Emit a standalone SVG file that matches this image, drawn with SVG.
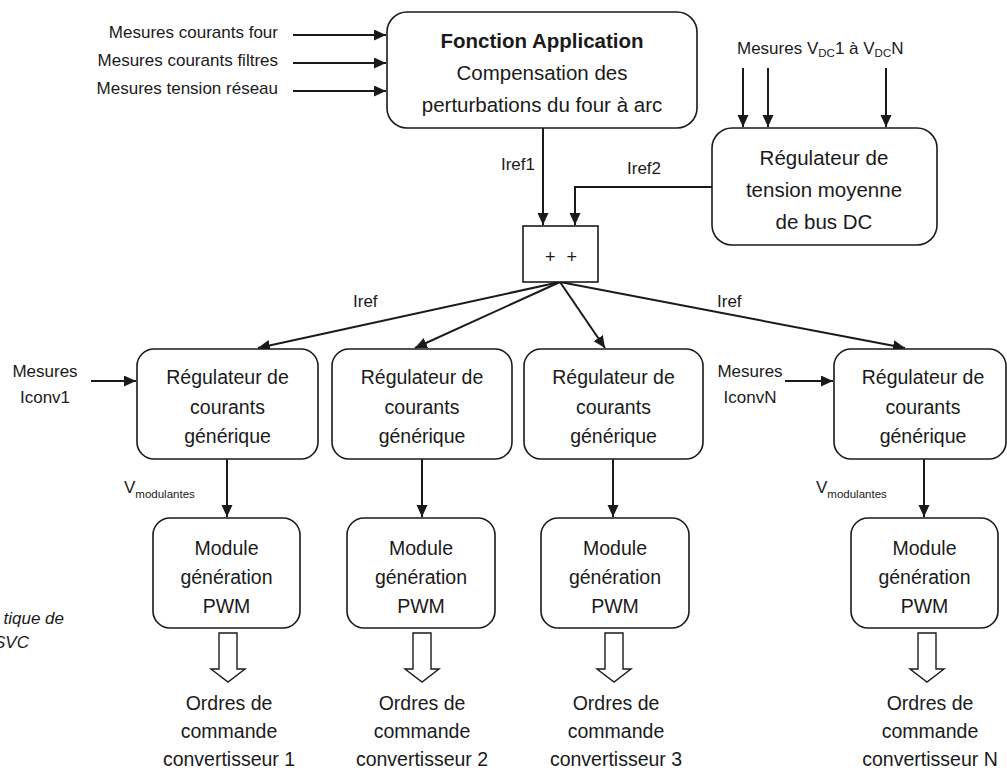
<svg xmlns="http://www.w3.org/2000/svg" width="1007" height="772" viewBox="0 0 1007 772">
<style>
text{font-family:"Liberation Sans",Arial,sans-serif;fill:#1a1a1a}
.box{fill:#fff;stroke:#1a1a1a;stroke-width:1.6}
.ln{fill:none;stroke:#1a1a1a;stroke-width:2}
.lbl{font-size:17px}
.t1{font-size:20.5px;text-anchor:middle}
.t2{font-size:19.5px;text-anchor:middle}
.sub{font-size:11.5px}
.hollow{fill:#fff;stroke:#1a1a1a;stroke-width:1.4}
</style>
<defs>
<marker id="ah" markerUnits="userSpaceOnUse" markerWidth="13" markerHeight="12" refX="12" refY="5.5" orient="auto">
<path d="M0,0 L12,5.5 L0,11 z" fill="#1a1a1a"/>
</marker>
</defs>
<rect width="1007" height="772" fill="#fff"/>

<g id="connectors">
<line class="ln" x1="293" y1="35" x2="386" y2="35" marker-end="url(#ah)"/>
<line class="ln" x1="293" y1="63" x2="386" y2="63" marker-end="url(#ah)"/>
<line class="ln" x1="293" y1="91" x2="386" y2="91" marker-end="url(#ah)"/>
<line class="ln" x1="743" y1="68" x2="743" y2="127" marker-end="url(#ah)"/>
<line class="ln" x1="768" y1="68" x2="768" y2="127" marker-end="url(#ah)"/>
<line class="ln" x1="886" y1="68" x2="886" y2="127" marker-end="url(#ah)"/>
<line class="ln" x1="543" y1="128" x2="543" y2="225" marker-end="url(#ah)"/>
<polyline class="ln" points="712,187 575,187 575,225" marker-end="url(#ah)"/>
<line class="ln" x1="560" y1="282" x2="258" y2="348" marker-end="url(#ah)"/>
<line class="ln" x1="560" y1="282" x2="415" y2="348" marker-end="url(#ah)"/>
<line class="ln" x1="560" y1="282" x2="605" y2="348" marker-end="url(#ah)"/>
<line class="ln" x1="560" y1="282" x2="905" y2="348" marker-end="url(#ah)"/>
<line class="ln" x1="91" y1="381" x2="136" y2="381" marker-end="url(#ah)"/>
<line class="ln" x1="785" y1="381" x2="833" y2="381" marker-end="url(#ah)"/>
<line class="ln" x1="227" y1="459" x2="227" y2="517" marker-end="url(#ah)"/>
<line class="ln" x1="422" y1="459" x2="422" y2="517" marker-end="url(#ah)"/>
<line class="ln" x1="613" y1="459" x2="613" y2="517" marker-end="url(#ah)"/>
<line class="ln" x1="924" y1="459" x2="924" y2="517" marker-end="url(#ah)"/>
<polygon class="hollow" points="219,633 237,633 237,669 245,669 228,682 211,669 219,669"/>
<polygon class="hollow" points="413,633 431,633 431,669 439,669 422,682 405,669 413,669"/>
<polygon class="hollow" points="605,633 623,633 623,669 631,669 614,682 597,669 605,669"/>
<polygon class="hollow" points="918,633 936,633 936,669 944,669 927,682 910,669 918,669"/>
</g>

<g id="labels">
<text class="lbl" x="278" y="38" text-anchor="end">Mesures courants four</text>
<text class="lbl" x="278" y="66" text-anchor="end">Mesures courants filtres</text>
<text class="lbl" x="278" y="94" text-anchor="end">Mesures tension réseau</text>
<text class="lbl" x="737" y="54" font-size="16.5">Mesures V<tspan class="sub" dy="3">DC</tspan><tspan dy="-3">1 à V</tspan><tspan class="sub" dy="3">DC</tspan><tspan dy="-3">N</tspan></text>
<text class="lbl" x="535" y="170" text-anchor="end">Iref1</text>
<text class="lbl" x="627" y="174">Iref2</text>
<text class="lbl" x="353" y="307">Iref</text>
<text class="lbl" x="717" y="307">Iref</text>
<text class="lbl" x="45" y="377" text-anchor="middle">Mesures</text>
<text class="lbl" x="45" y="403" text-anchor="middle">Iconv1</text>
<text class="lbl" x="750" y="377" text-anchor="middle">Mesures</text>
<text class="lbl" x="750" y="403" text-anchor="middle">IconvN</text>
<text class="lbl" x="124" y="493">V<tspan class="sub" dy="5">modulantes</tspan></text>
<text class="lbl" x="816" y="493">V<tspan class="sub" dy="5">modulantes</tspan></text>
<text class="lbl" x="64" y="624" text-anchor="end" font-style="italic">tique de</text>
<text class="lbl" x="29" y="648" text-anchor="end" font-style="italic">SVC</text>
</g>

<g id="fonction">
<rect class="box" x="387" y="12" width="310" height="116" rx="20"/>
<text class="t1" x="542" y="48" font-weight="bold" font-size="20">Fonction Application</text>
<text class="t1" x="542" y="80">Compensation des</text>
<text class="t1" x="542" y="112">perturbations du four à arc</text>
</g>

<g id="regulateur-tension">
<rect class="box" x="712" y="128" width="225" height="117" rx="20"/>
<text class="t1" x="824" y="165">Régulateur de</text>
<text class="t1" x="824" y="197">tension moyenne</text>
<text class="t1" x="824" y="229">de bus DC</text>
</g>

<g id="sommateur">
<rect class="box" x="523" y="226" width="75" height="56"/>
<text x="561" y="263" font-size="18" text-anchor="middle" word-spacing="6">+ +</text>
</g>

<g id="reg1">
<rect class="box" x="137" y="349" width="181" height="110" rx="17"/>
<text class="t2" x="227.5" y="384">Régulateur de</text>
<text class="t2" x="227.5" y="414">courants</text>
<text class="t2" x="227.5" y="443">générique</text>
</g>
<g id="reg2">
<rect class="box" x="332" y="349" width="180" height="110" rx="17"/>
<text class="t2" x="422" y="384">Régulateur de</text>
<text class="t2" x="422" y="414">courants</text>
<text class="t2" x="422" y="443">générique</text>
</g>
<g id="reg3">
<rect class="box" x="524" y="349" width="179" height="110" rx="17"/>
<text class="t2" x="613.5" y="384">Régulateur de</text>
<text class="t2" x="613.5" y="414">courants</text>
<text class="t2" x="613.5" y="443">générique</text>
</g>
<g id="regN">
<rect class="box" x="834" y="349" width="172" height="110" rx="17"/>
<text class="t2" x="923" y="384">Régulateur de</text>
<text class="t2" x="923" y="414">courants</text>
<text class="t2" x="923" y="443">générique</text>
</g>

<g id="pwm1">
<rect class="box" x="153" y="518" width="147" height="110" rx="17"/>
<text class="t2" x="226.5" y="555">Module</text>
<text class="t2" x="226.5" y="584">génération</text>
<text class="t2" x="226.5" y="613">PWM</text>
</g>
<g id="pwm2">
<rect class="box" x="347" y="518" width="148" height="110" rx="17"/>
<text class="t2" x="421" y="555">Module</text>
<text class="t2" x="421" y="584">génération</text>
<text class="t2" x="421" y="613">PWM</text>
</g>
<g id="pwm3">
<rect class="box" x="541" y="518" width="148" height="110" rx="17"/>
<text class="t2" x="615" y="555">Module</text>
<text class="t2" x="615" y="584">génération</text>
<text class="t2" x="615" y="613">PWM</text>
</g>
<g id="pwmN">
<rect class="box" x="851" y="518" width="147" height="110" rx="17"/>
<text class="t2" x="924.5" y="555">Module</text>
<text class="t2" x="924.5" y="584">génération</text>
<text class="t2" x="924.5" y="613">PWM</text>
</g>

<g id="ordres1">
<text class="t2" x="229" y="710">Ordres de</text>
<text class="t2" x="229" y="738">commande</text>
<text class="t2" x="229" y="766">convertisseur 1</text>
</g>
<g id="ordres2">
<text class="t2" x="422" y="710">Ordres de</text>
<text class="t2" x="422" y="738">commande</text>
<text class="t2" x="422" y="766">convertisseur 2</text>
</g>
<g id="ordres3">
<text class="t2" x="616" y="710">Ordres de</text>
<text class="t2" x="616" y="738">commande</text>
<text class="t2" x="616" y="766">convertisseur 3</text>
</g>
<g id="ordresN">
<text class="t2" x="930" y="710">Ordres de</text>
<text class="t2" x="930" y="738">commande</text>
<text class="t2" x="930" y="766">convertisseur N</text>
</g>
</svg>
